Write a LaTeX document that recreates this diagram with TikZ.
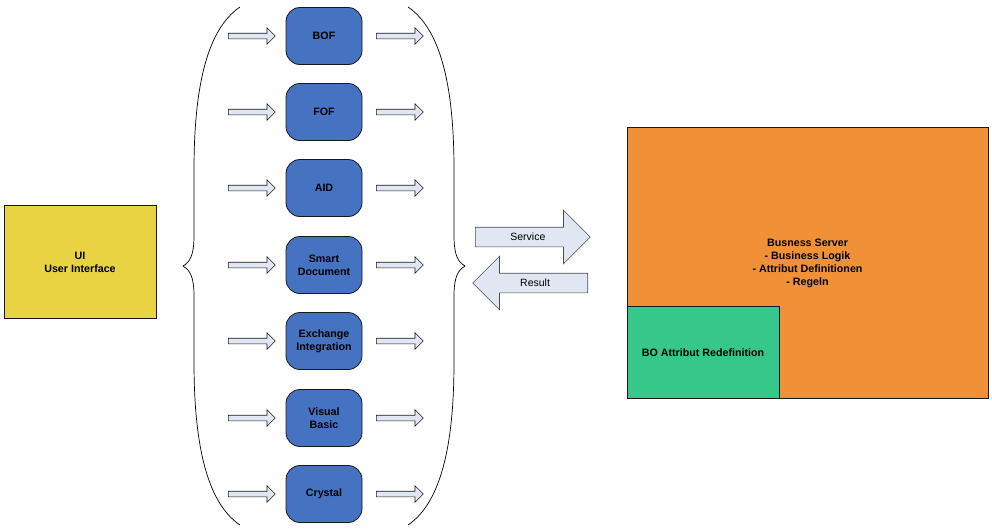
\documentclass[tikz,border=0pt]{standalone}
\usepackage{fontspec}
\setmainfont{Liberation Sans}
\usepackage{tikz}
\usetikzlibrary{shapes.arrows}

\definecolor{modblue}{RGB}{69,115,193}
\definecolor{uiyellow}{RGB}{232,211,66}
\definecolor{srvorange}{RGB}{240,145,56}
\definecolor{bogreen}{RGB}{54,200,139}
\definecolor{arrfill}{RGB}{224,231,243}
\definecolor{edge}{RGB}{25,25,25}

\begin{document}
\begin{tikzpicture}[x=1pt,y=-1pt,
  module/.style={draw=edge,line width=0.8pt,fill=modblue,rounded corners=14pt,
    minimum width=76pt,minimum height=57pt,align=center,font=\fontsize{10.7}{13}\selectfont\bfseries},
  block/.style={draw=edge,line width=0.8pt,align=center,font=\fontsize{10.7}{13}\selectfont\bfseries},
  hollow/.style={draw=edge,line width=0.6pt,fill=arrfill,single arrow,inner sep=0pt,
    text height=5pt,text depth=0pt,single arrow head extend=5.5pt,minimum height=47pt,anchor=tail},
  bigarrow/.style={draw=black!70,line width=0.6pt,fill=arrfill,single arrow,inner ysep=4.5pt,
    text height=8pt,text depth=2pt,single arrow head extend=17pt,minimum height=115pt,
    anchor=tail,font=\fontsize{10.5}{12}\selectfont}]
\useasboundingbox (0,0) rectangle (992,531);

% client side
\node[block,fill=uiyellow,minimum width=152pt,minimum height=113pt] (ui) at (80,262) {UI\\User Interface};

% braces
\draw[line width=0.7pt] (240,7) .. controls (206,30) and (194,90) .. (194,170) -- (194,236)
  .. controls (194,255) and (190,262) .. (183,266) .. controls (190,270) and (194,277) .. (194,296)
  -- (194,362) .. controls (194,442) and (206,502) .. (240,525);
\draw[line width=0.7pt] (408,7) .. controls (442,30) and (454,90) .. (454,170) -- (454,236)
  .. controls (454,255) and (458,262) .. (465,266) .. controls (458,270) and (454,277) .. (454,296)
  -- (454,362) .. controls (454,442) and (442,502) .. (408,525);

% modules
\node[module] (bof) at (324,36) {BOF};
\node[module] (fof) at (324,112) {FOF};
\node[module] (aid) at (324,188) {AID};
\node[module] (smart) at (324,265) {Smart\\Document};
\node[module] (exch) at (324,341) {Exchange\\Integration};
\node[module] (vb) at (324,418) {Visual\\Basic};
\node[module] (crystal) at (324,494) {Crystal};

% arrows in and out
\node[hollow] (inbof) at (228,36) {};
\node[hollow] (infof) at (228,112) {};
\node[hollow] (inaid) at (228,188) {};
\node[hollow] (insmart) at (228,265) {};
\node[hollow] (inexch) at (228,341) {};
\node[hollow] (invb) at (228,418) {};
\node[hollow] (incrystal) at (228,494) {};
\node[hollow] (outbof) at (376,36) {};
\node[hollow] (outfof) at (376,112) {};
\node[hollow] (outaid) at (376,188) {};
\node[hollow] (outsmart) at (376,265) {};
\node[hollow] (outexch) at (376,341) {};
\node[hollow] (outvb) at (376,418) {};
\node[hollow] (outcrystal) at (376,494) {};

% service / result
\node[bigarrow] (service) at (475,237) {Service};
\node[bigarrow,shape border rotate=180] (result) at (588,283) {Result};

% server side
\node[block,fill=srvorange,minimum width=361pt,minimum height=271pt] (server) at (807.5,263)
  {Busness Server\\- Business Logik\\- Attribut Definitionen\\- Regeln};
\node[block,fill=bogreen,minimum width=152pt,minimum height=92pt,anchor=south west] (bo) at (server.south west)
  {BO Attribut Redefinition};
\end{tikzpicture}
\end{document}
